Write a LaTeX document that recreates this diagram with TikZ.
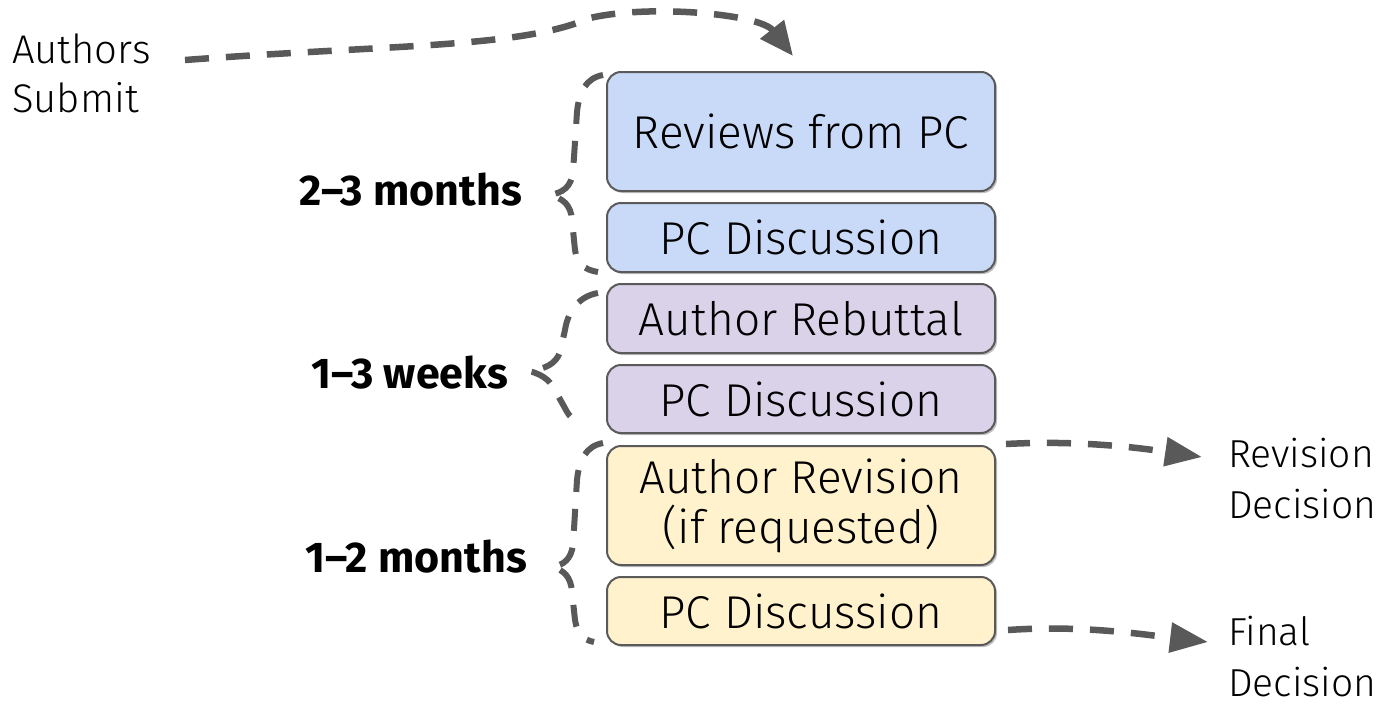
\documentclass[tikz,border=0pt]{standalone}
\usepackage{fontspec}
\setmainfont{Fira Sans}
\newfontfamily\boxfont{Fira Sans Light}
\newfontfamily\handfont{Fira Sans Light}
\usetikzlibrary{arrows.meta,shadows}
\definecolor{bluefill}{HTML}{C9DAF8}
\definecolor{purplefill}{HTML}{D9D2E9}
\definecolor{yellowfill}{HTML}{FFF2CC}
\definecolor{edgegray}{HTML}{5A5A5A}
\definecolor{arrowgray}{HTML}{595959}
\tikzset{
  stagebox/.style={draw=edgegray, line width=2pt, rounded corners=14pt,
    minimum width=388pt, inner sep=0pt, align=center, text=black,
    font=\boxfont\fontsize{46}{50}\selectfont,
    drop shadow={shadow xshift=2pt, shadow yshift=-2pt, opacity=0.25, fill=black}},
  dasharrow/.style={draw=arrowgray, line width=6.5pt, dash pattern=on 24pt off 17pt},
  bracepath/.style={draw=arrowgray, line width=6pt, dash pattern=on 22pt off 17pt},
  hand/.style={font=\handfont\fontsize{40}{49}\selectfont, align=left, inner sep=0pt},
  durlabel/.style={font=\bfseries\fontsize{43}{48}\selectfont, inner sep=0pt, anchor=base east}
}
\begin{document}
\begin{tikzpicture}[x=1pt,y=-1pt]
\useasboundingbox (0,0) rectangle (1389,704);

% stage boxes
\node[stagebox, fill=bluefill,   minimum height=119pt] (b1) at (801,131.5) {Reviews from PC};
\node[stagebox, fill=bluefill,   minimum height=69pt]  (b2) at (801,237.5) {PC Discussion};
\node[stagebox, fill=purplefill, minimum height=69pt]  (b3) at (801,318.5) {Author Rebuttal};
\node[stagebox, fill=purplefill, minimum height=68pt]  (b4) at (801,399)   {PC Discussion};
\node[stagebox, fill=yellowfill, minimum height=119pt] (b5) at (801,505.5) {Author Revision\\(if requested)};
\node[stagebox, fill=yellowfill, minimum height=68pt]  (b6) at (801,611)   {PC Discussion};

% duration labels
\node[durlabel] (d1) at (522,205) {2–3 months};
\node[durlabel] (d2) at (508,388) {1–3 weeks};
\node[durlabel] (d3) at (527,572) {1–2 months};

% hand-written labels (base = last line's baseline)
\node[hand, anchor=base west] (authors) at (12,112) {Authors\\Submit};
\node[hand, anchor=base west, font=\handfont\fontsize{39}{51}\selectfont] (revdec) at (1228,518) {Revision\\Decision};
\node[hand, anchor=base west, font=\handfont\fontsize{39}{51}\selectfont] (findec) at (1228,696) {Final\\Decision};

% braces
\draw[bracepath] (603,75) .. controls (586,78) and (579,92) .. (577,112)
  -- (573,172) .. controls (571,187) and (563,193) .. (549,195)
  .. controls (563,198) and (571,205) .. (572,220)
  -- (575,250) .. controls (577,263) and (584,270) .. (598,272);
\draw[bracepath] (598,293) .. controls (580,296) and (568,310) .. (565,330)
  -- (560,352) .. controls (556,364) and (545,369) .. (529,371)
  .. controls (545,375) and (552,383) .. (556,392)
  -- (566,410) .. controls (570,418) and (576,422) .. (584,423);
\draw[bracepath] (603,443) .. controls (586,446) and (579,460) .. (577,480)
  -- (573,545) .. controls (571,559) and (564,565) .. (552,567)
  .. controls (564,570) and (571,577) .. (572,592)
  -- (575,620) .. controls (577,633) and (583,640) .. (594,642);

% arrows
\coordinate (authstart) at (185,60);
\coordinate (b1top) at ([shift={(-8,-15)}]b1.north);
\draw[dasharrow, -{Triangle[length=34pt,width=29pt]}]
  (authstart) .. controls (400,44) and (520,48) .. (590,18)
  .. controls (650,4) and (760,14) .. (b1top);
\coordinate (revtip) at (1202,457);
\coordinate (fintip) at (1208,642);
\draw[dasharrow, -{Triangle[length=37pt,width=28pt]}]
  ([shift={(10,-1)}]b5.north east) .. controls (1080,440) and (1140,448) .. (revtip);
\draw[dasharrow, -{Triangle[length=38pt,width=29pt]}]
  ([shift={(12,19)}]b6.east) .. controls (1080,625) and (1140,634) .. (fintip);
\end{tikzpicture}
\end{document}
